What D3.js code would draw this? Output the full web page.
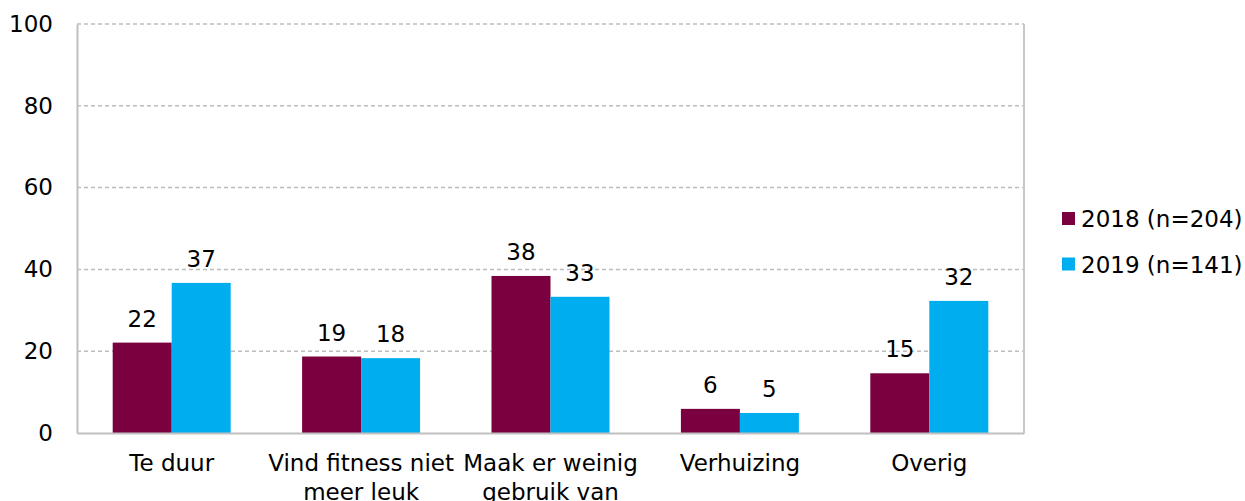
<!DOCTYPE html>
<html><head><meta charset="utf-8">
<script src="https://cdn.jsdelivr.net/npm/d3@7"></script>
<style>body{margin:0;background:#fff}svg{display:block}text{font-family:"DejaVu Sans",sans-serif;fill:#000}</style>
</head><body>
<svg id="c" width="1245" height="501"></svg>
<script>
const categories = ["Te duur", "Vind fitness niet meer leuk", "Maak er weinig gebruik van", "Verhuizing", "Overig"];
const categoryLines = [["Te duur"], ["Vind fitness niet", "meer leuk"], ["Maak er weinig", "gebruik van"], ["Verhuizing"], ["Overig"]];
const seriesNames = ["2018 (n=204)", "2019 (n=141)"];
const values2018 = [22.1, 18.7, 38.4, 5.9, 14.6];
const values2019 = [36.7, 18.3, 33.3, 4.9, 32.3];
const yTicks = [0, 20, 40, 60, 80, 100];
const colors = ["#7B0040", "#00AEEF"];

const svg = d3.select("#c");
const L = 77, R = 1024, T = 24, B = 433;
const fs = 23;
const x = d3.scaleBand().domain(categories).range([L, R]).paddingInner(0.377).paddingOuter(0.1885);
const x1 = d3.scaleBand().domain([0, 1]).range([0, x.bandwidth()]);
const y = d3.scaleLinear().domain([0, 100]).range([B, T]);

// gridlines
svg.append("g").selectAll("line").data(yTicks.filter(d => d > 0)).join("line")
  .attr("x1", L).attr("x2", R).attr("y1", d => y(d)).attr("y2", d => y(d))
  .attr("stroke", "#BDBDBD").attr("stroke-width", 1.5).attr("stroke-dasharray", "4,3");

// right border
svg.append("line").attr("x1", R).attr("x2", R).attr("y1", T).attr("y2", B)
  .attr("stroke", "#C8C8C8").attr("stroke-width", 2);

// bars
const series = [values2018, values2019];
series.forEach((vals, si) => {
  const g = svg.append("g");
  g.selectAll("rect").data(vals).join("rect")
    .attr("x", (d, i) => x(categories[i]) + x1(si))
    .attr("width", x1.bandwidth())
    .attr("y", d => y(d))
    .attr("height", d => y(0) - y(d))
    .attr("fill", colors[si]);
  g.selectAll("text").data(vals).join("text")
    .attr("x", (d, i) => x(categories[i]) + x1(si) + x1.bandwidth() / 2)
    .attr("y", d => y(d) - 16)
    .attr("text-anchor", "middle")
    .attr("font-size", fs)
    .text(d => d3.format(".0f")(d));
});

// y axis
const yAxis = svg.append("g").attr("transform", `translate(${L},0)`)
  .call(d3.axisLeft(y).tickValues(yTicks).tickSize(0).tickPadding(24).tickFormat(d3.format("d")));
yAxis.select(".domain").attr("stroke", "#C0C0C0").attr("stroke-width", 2);
yAxis.selectAll("text").attr("font-size", fs).attr("font-family", "DejaVu Sans").attr("fill", "#000");

// x axis
const xAxis = svg.append("g").attr("transform", `translate(0,${B})`)
  .call(d3.axisBottom(x).tickSize(0).tickFormat(""));
xAxis.select(".domain").attr("stroke", "#C0C0C0").attr("stroke-width", 2);
xAxis.selectAll(".tick text").remove();
xAxis.selectAll(".tick").each(function(d, i) {
  const t = d3.select(this).append("text").attr("text-anchor", "middle").attr("font-size", fs)
    .attr("font-family", "DejaVu Sans").attr("fill", "#000");
  categoryLines[i].forEach((line, li) => {
    t.append("tspan").attr("x", 0).attr("y", 38 + li * 29).text(line);
  });
});

// legend
const lg = svg.append("g");
seriesNames.forEach((name, i) => {
  const yy = 212 + i * 45.5;
  lg.append("rect").attr("x", 1062).attr("y", yy).attr("width", 13).attr("height", 13).attr("fill", colors[i]);
  lg.append("text").attr("x", 1081).attr("y", yy + 15).attr("font-size", fs).text(name);
});
</script>
</body></html>
